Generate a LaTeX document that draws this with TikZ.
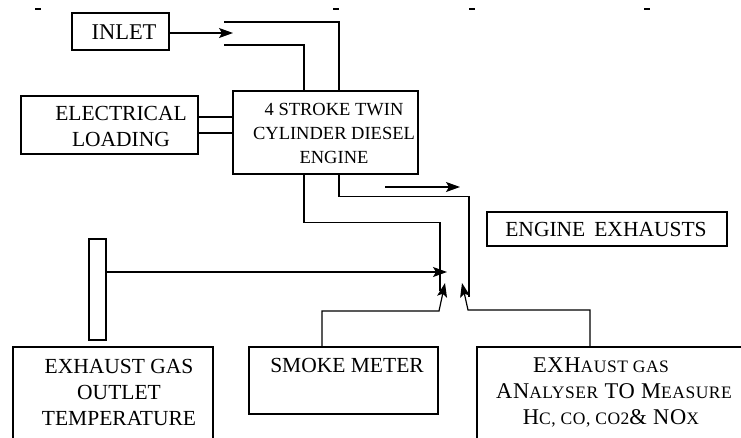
\documentclass[tikz,border=0pt]{standalone}
\usepackage{fontspec}
\setmainfont{Liberation Serif}
\usetikzlibrary{arrows.meta}
\tikzset{
  box/.style={draw, line width=1.2pt, inner sep=0pt, rectangle},
  lbl/.style={inner sep=0pt, align=center, font=\fontsize{21.5}{26}\selectfont},
  englbl/.style={inner sep=0pt, align=center, font=\fontsize{18.5}{24}\selectfont},
  analbl/.style={inner sep=0pt, align=center, font=\fontsize{22.5}{26}\selectfont\addfontfeature{LetterSpace=3}},
  wire/.style={line width=1.2pt},
  arr/.style={wire, -{Stealth[length=14pt,width=10pt,inset=3pt]}},
  tick/.style={line width=1.5pt},
}
\newcommand{\sml}[1]{{\fontsize{17.5}{26}\selectfont\addfontfeature{LetterSpace=3}#1}}
\begin{document}
\begin{tikzpicture}[x=1pt,y=-1pt]
\useasboundingbox (0,0) rectangle (741,437);
\clip (0,0) rectangle (741,437);
\fill[white] (0,0) rectangle (741,437);

% boxes
\node[box, minimum width=97pt, minimum height=37pt] (inlet) at (120.5,31.5) {};
\node[box, minimum width=185pt, minimum height=83pt] (eng) at (325.5,132.5) {};
\node[box, minimum width=177pt, minimum height=58pt] (elec) at (109.5,125) {};
\node[box, minimum width=240pt, minimum height=34pt] (exh) at (607,229) {};
\node[box, minimum width=17pt, minimum height=101pt] (thermo) at (97.5,289.5) {};
\node[box, minimum width=200pt, minimum height=93pt] (outlet) at (113,393.5) {};
\node[box, minimum width=189pt, minimum height=67pt] (smoke) at (343.5,380.5) {};
\node[box, minimum width=273pt, minimum height=93pt] (ana) at (613.5,393.5) {};

% texts
\node[lbl, font=\fontsize{22.5}{26}\selectfont] (tinlet) at (124,32) {INLET};
\node[lbl] (telec) at (121,126.5) {ELECTRICAL\\LOADING};
\node[englbl] (teng) at (334,133) {4 STROKE TWIN\\CYLINDER DIESEL\\ENGINE};
\node[lbl] (texh) at (606,229) {ENGINE\hspace{9pt}EXHAUSTS};
\node[lbl] (tout) at (119,392) {EXHAUST GAS\\OUTLET\\TEMPERATURE};
\node[lbl] (tsmoke) at (347,365) {SMOKE METER};
\node[analbl] (tana) at (614,392) {EXH\sml{AUST GAS}\hspace*{26pt}\\AN\sml{ALYSER} TO M\sml{EASURE}\\H\sml{C, CO, CO2}\& NO\sml{X}\hspace*{6pt}};

% coordinates
\coordinate (inA) at (233,33);
\coordinate (d1) at (224,22);
\coordinate (d2) at (224,45);
\coordinate (e1end) at (440,291);
\coordinate (e2end) at (469,297);
\coordinate (s1) at (385,187);
\coordinate (s2) at (460,187);
\coordinate (jn) at (447,272);
\coordinate (sm1) at (439,311);
\coordinate (sm2) at (445,283);
\coordinate (an1) at (468,310);
\coordinate (an2) at (462,283);

% connectors
\draw[arr] (inlet.east |- inA) -- (inA);
\draw[wire] (d1) -| ([xshift=13.5pt]eng.north);
\draw[wire] (d2) -| ([xshift=-21.5pt]eng.north);
\draw[wire] (elec.east |- 0,117) -- (eng.west |- 0,117);
\draw[wire] (elec.east |- 0,133) -- (eng.west |- 0,133);
\draw[wire] ([xshift=-21.5pt]eng.south) -- ++(0,48) -| (e1end);
\draw[wire] ([xshift=13.5pt]eng.south) -- ++(0,22) -| (e2end);
\draw[arr] (s1) -- (s2);
\draw[arr] (thermo.east |- jn) -- (jn);
\draw[arr] ([xshift=-21.5pt]smoke.north) |- (sm1) -- (sm2);
\draw[arr] ([xshift=-23.5pt]ana.north) |- (an1) -- (an2);

% small marks at top
\foreach \x in {38,336,472,647} \draw[tick] (\x-3,9) -- (\x+3,9);
\end{tikzpicture}
\end{document}
